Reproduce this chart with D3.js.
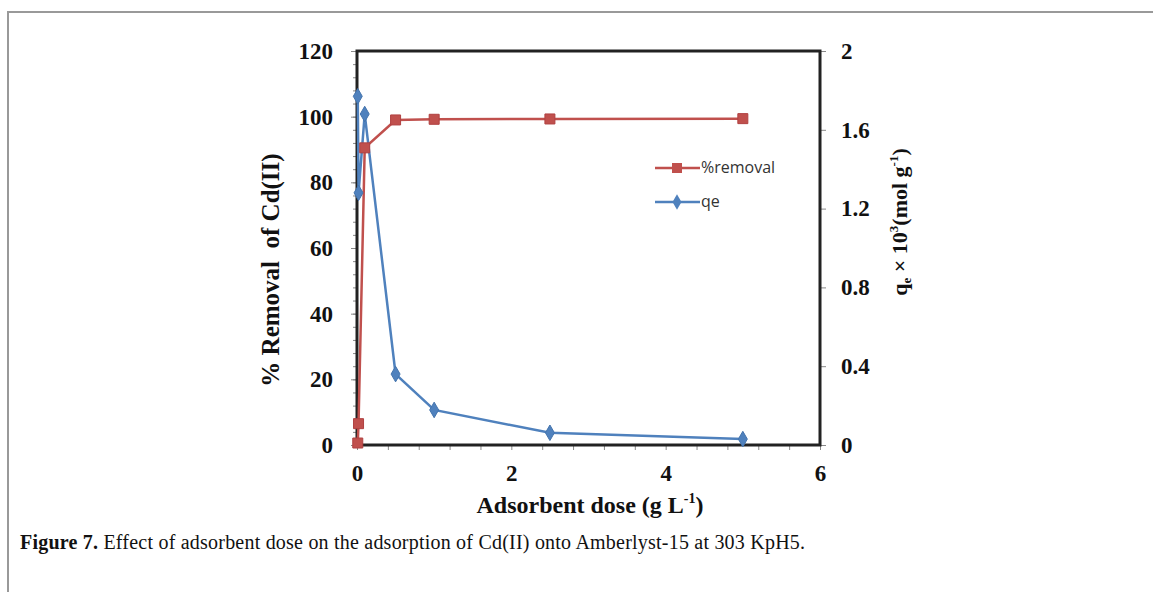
<!DOCTYPE html>
<html>
<head>
<meta charset="utf-8">
<script src="https://cdn.jsdelivr.net/npm/d3@7.9.0/dist/d3.min.js"></script>
<style>
  body { margin: 0; background: #fff; }
  svg { display: block; }
  .tick text { font-family: "Liberation Serif", "Times New Roman", serif; font-weight: bold; font-size: 23px; fill: #111; }
</style>
</head>
<body>
<svg id="chart" width="1153" height="592"></svg>
<script>
// Values
const dose = [0.01, 0.02, 0.1, 0.5, 1, 2.5, 5];
const removal = [0.6, 6.5, 90.5, 99, 99.2, 99.3, 99.4];
const qe = [1.77, 1.28, 1.68, 0.36, 0.178, 0.062, 0.03];
const xTicks = [0, 2, 4, 6];
const leftTicks = [0, 20, 40, 60, 80, 100, 120];
const rightTicks = [0, 0.4, 0.8, 1.2, 1.6, 2];

const svg = d3.select('#chart');
const red = '#c0504d', blue = '#4f81bd';
const fmt = d => String(d);

// outer figure frame
svg.append('path')
    .attr('d', 'M8,592 V12 H1153')
    .attr('fill', 'none')
    .attr('stroke', '#999')
    .attr('stroke-width', 2);

const x = d3.scaleLinear().domain([0, 6]).range([357, 820]);
const yL = d3.scaleLinear().domain([0, 120]).range([445, 51]);
const yR = d3.scaleLinear().domain([0, 2]).range([445, 51]);

// minor ticks
const g = svg.append('g');
g.append('g')
    .attr('transform', `translate(${x(0)},0)`)
    .call(d3.axisLeft(yL).tickValues(d3.range(0, 121, 4)).tickSize(4).tickFormat(''))
    .call(a => a.select('.domain').remove())
    .selectAll('line').attr('stroke', '#888');
g.append('g')
    .attr('transform', `translate(0,${yL(0)})`)
    .call(d3.axisBottom(x).tickValues(d3.range(0, 6.01, 0.4)).tickSize(5).tickFormat(''))
    .call(a => a.select('.domain').remove())
    .selectAll('line').attr('stroke', '#888');

// major axes with labels
g.append('g')
    .attr('transform', `translate(${x(0)},0)`)
    .call(d3.axisLeft(yL).tickValues(leftTicks).tickSize(6).tickPadding(18).tickFormat(fmt))
    .call(a => a.select('.domain').remove())
    .selectAll('line').attr('stroke', '#888');
g.append('g')
    .attr('transform', `translate(${x(6)},0)`)
    .call(d3.axisRight(yR).tickValues(rightTicks).tickSize(6).tickPadding(15).tickFormat(fmt))
    .call(a => a.select('.domain').remove())
    .selectAll('line').attr('stroke', '#888');
g.append('g')
    .attr('transform', `translate(0,${yL(0)})`)
    .call(d3.axisBottom(x).tickValues(xTicks).tickSize(0).tickPadding(20).tickFormat(fmt))
    .call(a => a.select('.domain').remove());

// plot box
svg.append('rect')
    .attr('x', x(0)).attr('y', yL(120))
    .attr('width', x(6) - x(0)).attr('height', yL(0) - yL(120))
    .attr('fill', 'none')
    .attr('stroke', '#222')
    .attr('stroke-width', 3);

// series
const lineL = d3.line().x((d, i) => x(dose[i])).y(d => yL(d));
const lineR = d3.line().x((d, i) => x(dose[i])).y(d => yR(d));

svg.append('path').datum(removal)
    .attr('d', lineL).attr('fill', 'none')
    .attr('stroke', red).attr('stroke-width', 2.5);
svg.append('path').datum(qe)
    .attr('d', lineR).attr('fill', 'none')
    .attr('stroke', blue).attr('stroke-width', 2.5);

const sq = d3.symbol().type(d3.symbolSquare).size(100);
const dm = d3.symbol().type(d3.symbolDiamond).size(70);

svg.append('g').selectAll('path').data(removal).join('path')
    .attr('d', sq)
    .attr('transform', (d, i) => `translate(${x(dose[i])},${yL(d)})`)
    .attr('fill', red).attr('stroke', '#b04040').attr('stroke-width', 1);
svg.append('g').selectAll('path').data(qe).join('path')
    .attr('d', dm)
    .attr('transform', (d, i) => `translate(${x(dose[i])},${yR(d)})`)
    .attr('fill', blue).attr('stroke', '#4474ad').attr('stroke-width', 1);

// legend
const legend = [
    { name: '%removal', color: red, sym: sq, y: 168 },
    { name: 'qe', color: blue, sym: dm, y: 202 }
];
const lg = svg.append('g');
legend.forEach(d => {
    lg.append('line').attr('x1', 655).attr('x2', 700).attr('y1', d.y).attr('y2', d.y)
        .attr('stroke', d.color).attr('stroke-width', 2.5);
    lg.append('path').attr('d', d.sym).attr('transform', `translate(677,${d.y})`)
        .attr('fill', d.color);
    lg.append('text').attr('x', 701).attr('y', d.y + 5)
        .attr('font-family', '"Open Sans", "Noto Sans", sans-serif')
        .attr('font-size', 16).attr('fill', '#333')
        .text(d.name);
});

// axis titles
const serif = '"Liberation Serif", "Times New Roman", serif';
svg.append('text')
    .attr('transform', 'translate(279,270) rotate(-90)')
    .attr('text-anchor', 'middle')
    .attr('font-family', serif).attr('font-weight', 'bold').attr('font-size', 25).attr('fill', '#111')
    .attr('xml:space', 'preserve')
    .text('% Removal  of Cd(II)');

const rt = svg.append('text')
    .attr('transform', 'translate(907,222) rotate(-90)')
    .attr('text-anchor', 'middle')
    .attr('font-family', serif).attr('font-weight', 'bold').attr('font-size', 22).attr('fill', '#111');
rt.append('tspan').text('q');
rt.append('tspan').attr('font-size', 13).attr('dy', 4).text('e');
rt.append('tspan').attr('dy', -4).text(' × 10');
rt.append('tspan').attr('font-size', 13).attr('dy', -9).text('3');
rt.append('tspan').attr('dy', 9).text('(mol g');
rt.append('tspan').attr('font-size', 13).attr('dy', -9).text('-1');
rt.append('tspan').attr('dy', 9).text(')');

const bt = svg.append('text')
    .attr('x', 590).attr('y', 513)
    .attr('text-anchor', 'middle')
    .attr('font-family', serif).attr('font-weight', 'bold').attr('font-size', 24).attr('fill', '#111');
bt.append('tspan').text('Adsorbent dose (g L');
bt.append('tspan').attr('font-size', 14).attr('dy', -10).text('-1');
bt.append('tspan').attr('dy', 10).text(')');

// caption
const cap = svg.append('text')
    .attr('x', 20).attr('y', 549)
    .attr('font-family', serif).attr('font-size', 20).attr('fill', '#111')
    .attr('textLength', 785).attr('lengthAdjust', 'spacing');
cap.append('tspan').attr('font-weight', 'bold').text('Figure 7.');
cap.append('tspan').text(' Effect of adsorbent dose on the adsorption of Cd(II) onto Amberlyst-15 at 303 KpH5.');
</script>
</body>
</html>
